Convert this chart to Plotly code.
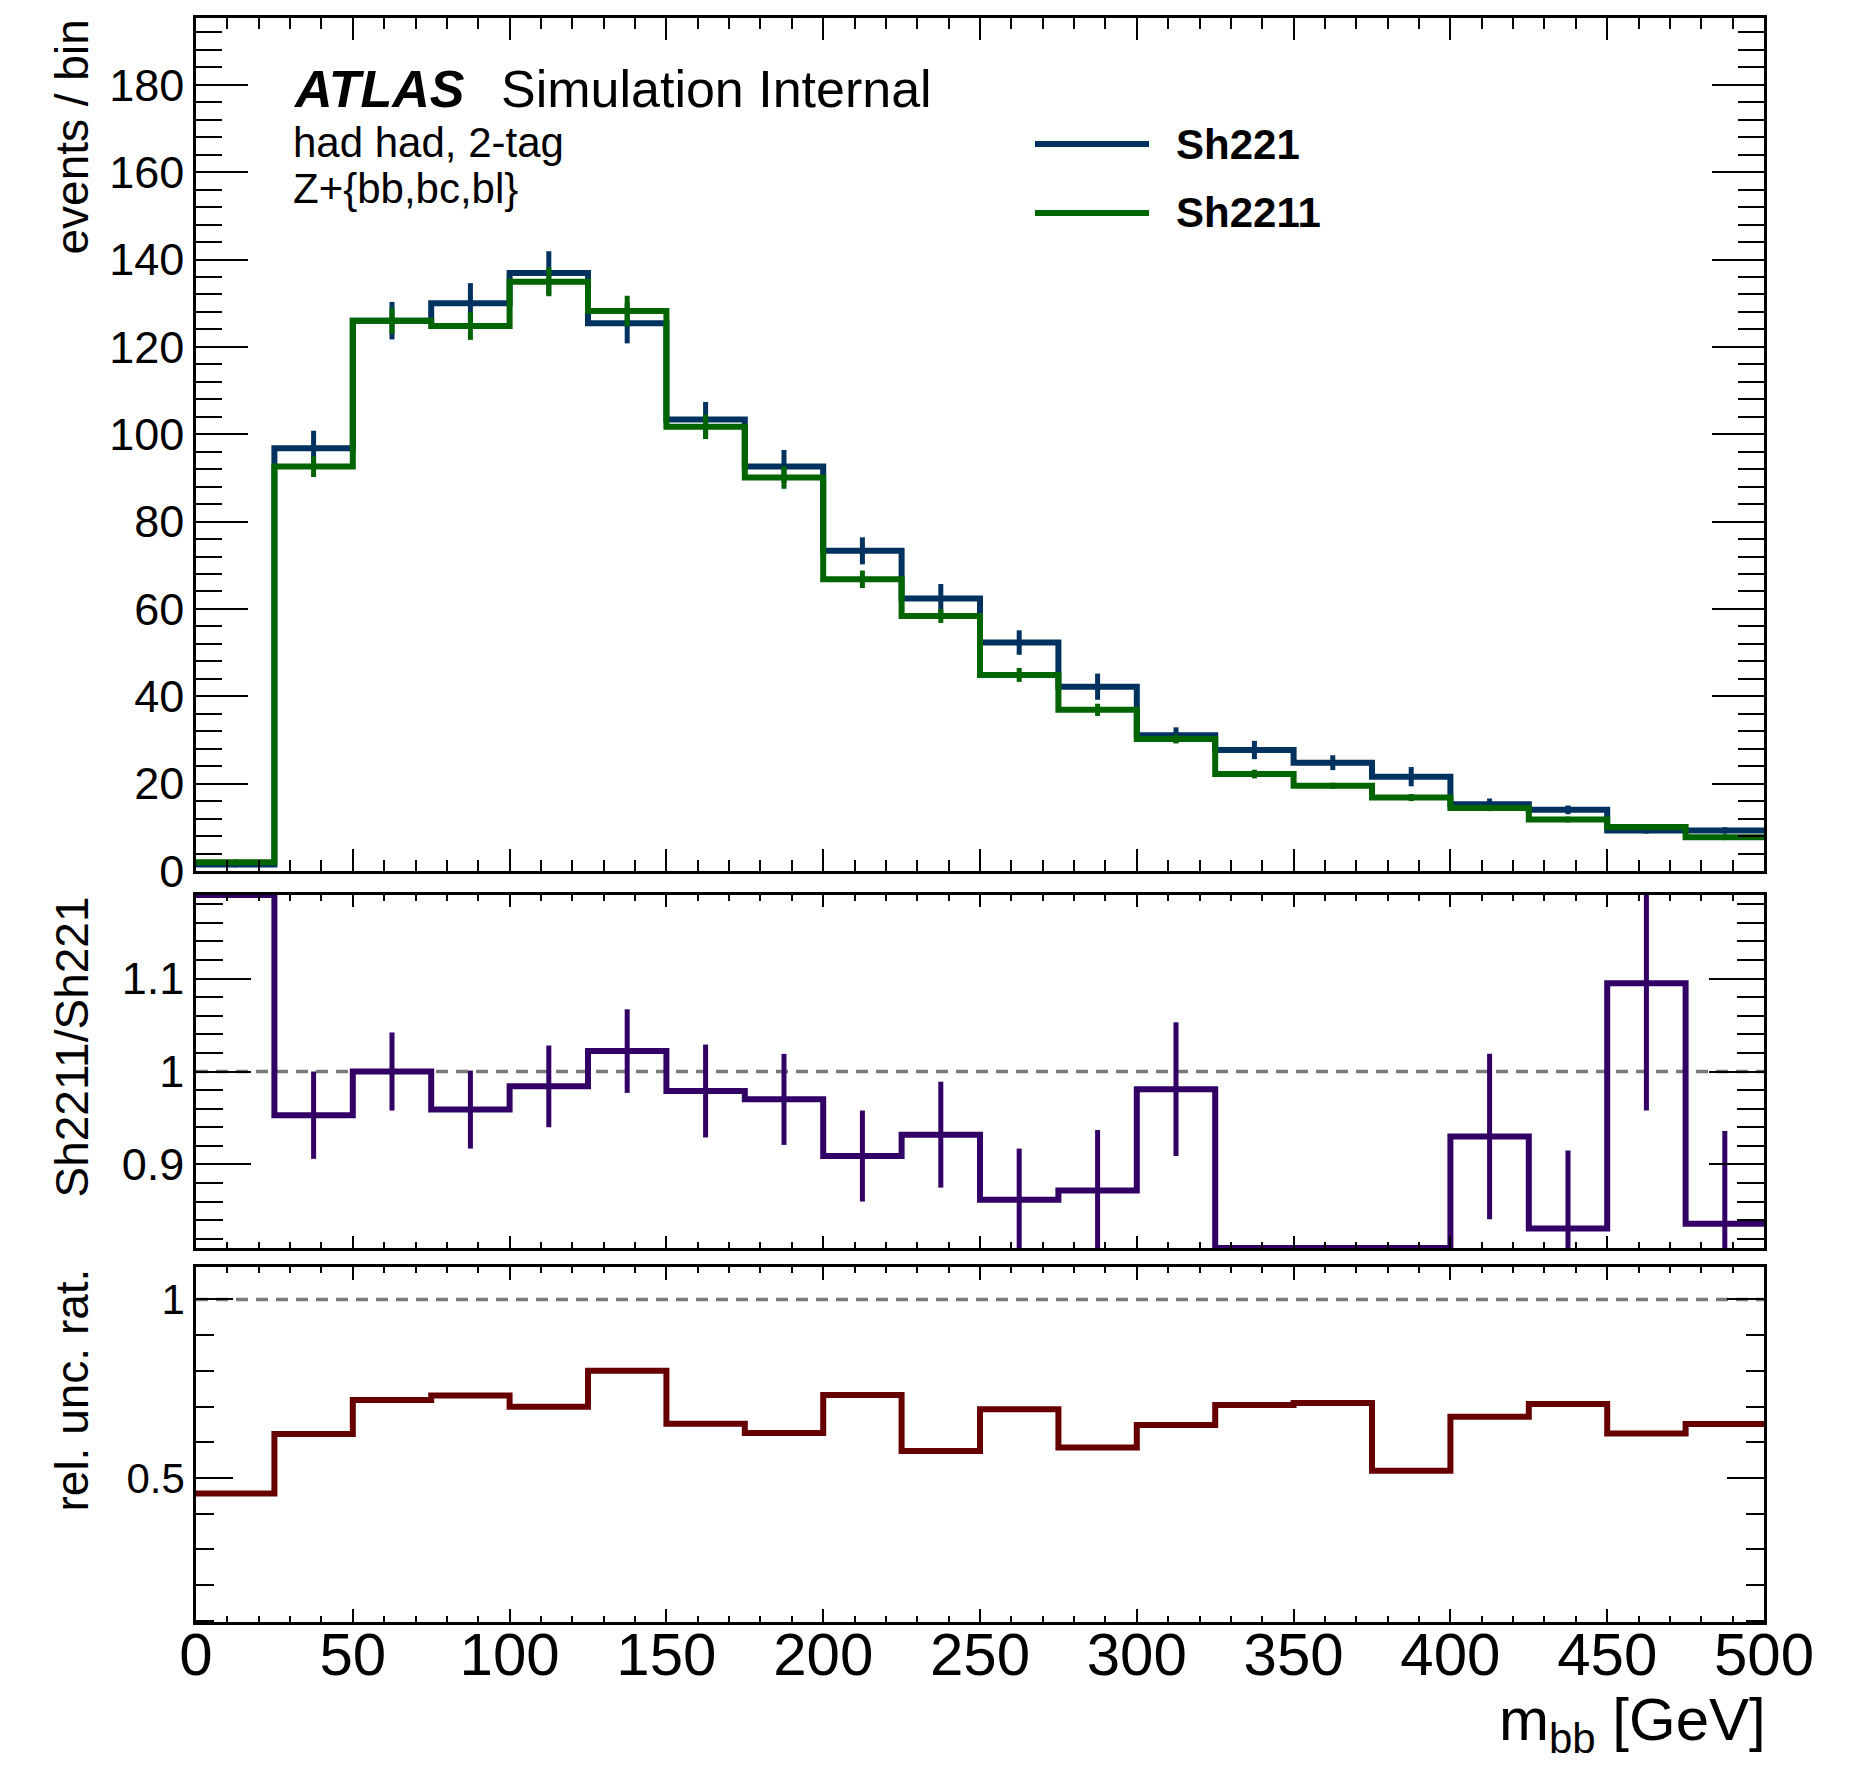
import numpy as np
import plotly.graph_objects as go

# ---------------- data ----------------
bin_edges = [0, 25, 50, 75, 100, 125, 150, 175, 200, 225, 250, 275, 300, 325, 350, 375, 400, 425, 450, 475, 500]

sh221 = [1.5, 96.8, 126.0, 130.0, 136.9, 125.4, 103.4, 92.6, 73.3, 62.4, 52.3, 42.2, 31.1, 27.7, 24.8, 21.6, 15.3, 14.0, 9.3, 9.3]
sh221_err = [0.6, 4.0, 4.3, 4.6, 5.0, 4.6, 4.0, 3.8, 3.1, 3.3, 2.8, 3.0, 1.8, 2.1, 1.7, 2.2, 1.3, 1.0, 0.7, 0.7]
sh2211 = [2.0, 92.6, 126.0, 124.8, 134.9, 128.2, 101.7, 90.1, 66.8, 58.4, 44.9, 36.9, 30.2, 22.2, 19.5, 16.8, 14.4, 11.8, 10.1, 7.7]
sh2211_err = [0.4, 2.4, 3.0, 3.2, 3.3, 3.5, 2.8, 2.6, 2.0, 1.6, 1.6, 1.4, 1.0, 1.0, 0.7, 0.8, 0.7, 0.6, 0.5, 0.4]

ratio = [1.30, 0.953, 1.000, 0.959, 0.984, 1.022, 0.979, 0.970, 0.909, 0.932, 0.862, 0.872, 0.981, 0.800, 0.785, 0.780, 0.930, 0.831, 1.095, 0.836]
ratio_err = [0.10, 0.047, 0.042, 0.042, 0.044, 0.045, 0.050, 0.049, 0.049, 0.057, 0.055, 0.065, 0.072, 0.07, 0.07, 0.08, 0.089, 0.084, 0.137, 0.10]

rel_unc_ratio = [0.456, 0.623, 0.718, 0.731, 0.699, 0.800, 0.652, 0.626, 0.732, 0.575, 0.692, 0.585, 0.648, 0.704, 0.710, 0.520, 0.671, 0.707, 0.624, 0.651]

reference_value = 1.0

x_ticks = [0, 50, 100, 150, 200, 250, 300, 350, 400, 450, 500]
y_ticks_top = [0, 20, 40, 60, 80, 100, 120, 140, 160, 180]
y_ticks_mid = [0.9, 1.0, 1.1]
y_ticklabels_mid = ["0.9", "1", "1.1"]
y_ticks_bot = [0.5, 1.0]
y_ticklabels_bot = ["0.5", "1"]

y_range_top = [0, 195.3]
y_range_mid = [0.81, 1.19]
y_range_bot = [0.096, 1.091]
x_range = [0, 500]

# ---------------- style ----------------
C_BLUE = "#00325f"
C_GREEN = "#006400"
C_PURPLE = "#330066"
C_RED = "#660000"
C_GRAY = "#7a7a7a"
FONT = "Liberation Sans, Arial, Helvetica, sans-serif"
LW = 6
EW = 5

W_PX, H_PX = 1854, 1765
L, R, T, B = 196, 1764, 18, 1622
PW, PH = R - L, B - T


def px(fx):
    return (fx - L) / PW


def py(fy):
    return (B - fy) / PH


edges = np.array(bin_edges, dtype=float)
centers = 0.5 * (edges[:-1] + edges[1:])


def step_y(vals):
    v = list(vals)
    return v + [v[-1]]


fig = go.Figure()

# top panel
fig.add_trace(go.Scatter(x=edges, y=step_y(sh221), mode="lines", line=dict(color=C_BLUE, width=LW, shape="hv"),
                         xaxis="x", yaxis="y", showlegend=False))
fig.add_trace(go.Scatter(x=centers, y=sh221, mode="markers", marker=dict(size=0, color=C_BLUE),
                         error_y=dict(type="data", array=sh221_err, width=0, thickness=EW, color=C_BLUE),
                         xaxis="x", yaxis="y", showlegend=False))
fig.add_trace(go.Scatter(x=edges, y=step_y(sh2211), mode="lines", line=dict(color=C_GREEN, width=LW, shape="hv"),
                         xaxis="x", yaxis="y", showlegend=False))
fig.add_trace(go.Scatter(x=centers, y=sh2211, mode="markers", marker=dict(size=0, color=C_GREEN),
                         error_y=dict(type="data", array=sh2211_err, width=0, thickness=EW, color=C_GREEN),
                         xaxis="x", yaxis="y", showlegend=False))

# middle panel (ratio)
fig.add_trace(go.Scatter(x=x_range, y=[reference_value, reference_value], mode="lines",
                         line=dict(color=C_GRAY, width=3.5, dash="12px,8px"),
                         xaxis="x2", yaxis="y2", showlegend=False))
r = np.array(ratio)
re = np.array(ratio_err)
r_clip = np.clip(r, y_range_mid[0], y_range_mid[1])
fig.add_trace(go.Scatter(x=edges, y=step_y(r_clip), mode="lines", line=dict(color=C_PURPLE, width=LW, shape="hv"),
                         xaxis="x2", yaxis="y2", showlegend=False))
inr = (r > y_range_mid[0]) & (r < y_range_mid[1])
fig.add_trace(go.Scatter(x=centers[inr], y=r[inr], mode="markers", marker=dict(size=0, color=C_PURPLE),
                         error_y=dict(type="data", array=re[inr], width=0, thickness=EW, color=C_PURPLE),
                         xaxis="x2", yaxis="y2", showlegend=False))

# bottom panel (rel. unc. ratio)
fig.add_trace(go.Scatter(x=x_range, y=[reference_value, reference_value], mode="lines",
                         line=dict(color=C_GRAY, width=3.5, dash="12px,8px"),
                         xaxis="x3", yaxis="y3", showlegend=False))
fig.add_trace(go.Scatter(x=edges, y=step_y(rel_unc_ratio), mode="lines", line=dict(color=C_RED, width=LW, shape="hv"),
                         xaxis="x3", yaxis="y3", showlegend=False))

dom_top = [py(871), 1.0]
dom_mid = [py(1248), py(895)]
dom_bot = [0.0, py(1267)]


def xaxis_cfg(domain_anchor, ticklen, show_labels, standoff=0):
    return dict(range=x_range, anchor=domain_anchor, domain=[0, 1], tickvals=x_ticks,
                ticks="inside", ticklen=ticklen, tickwidth=2, tickcolor="black",
                minor=dict(ticks="inside", dtick=10, tick0=0, ticklen=ticklen / 2, tickwidth=2, tickcolor="black"),
                showline=True, linewidth=2.5, linecolor="black", mirror="ticks",
                showgrid=False, zeroline=False, showticklabels=show_labels,
                ticklabelstandoff=standoff,
                tickfont=dict(family=FONT, size=60, color="black"))


def yaxis_cfg(domain, anchor, rng, tickvals, ticktext, ticklen, minor_dtick, minor_tick0, fsize):
    return dict(range=rng, domain=domain, anchor=anchor, tickvals=tickvals, ticktext=ticktext,
                ticks="inside", ticklen=ticklen, tickwidth=2, tickcolor="black",
                minor=dict(ticks="inside", dtick=minor_dtick, tick0=minor_tick0, ticklen=ticklen / 2,
                           tickwidth=2, tickcolor="black"),
                showline=True, linewidth=2.5, linecolor="black", mirror="ticks",
                showgrid=False, zeroline=False,
                tickfont=dict(family=FONT, size=fsize, color="black"))


layout = dict(
    width=W_PX, height=H_PX,
    margin=dict(l=L, r=W_PX - R, t=T, b=H_PX - B),
    paper_bgcolor="white", plot_bgcolor="white",
    showlegend=False,
    xaxis=xaxis_cfg("y", 22, False),
    xaxis2=xaxis_cfg("y2", 12, False),
    xaxis3=xaxis_cfg("y3", 13, True, standoff=-22),
    yaxis=yaxis_cfg(dom_top, "x", y_range_top, y_ticks_top, [str(v) for v in y_ticks_top], 52, 4, 0, 45),
    yaxis2=yaxis_cfg(dom_mid, "x2", y_range_mid, y_ticks_mid, y_ticklabels_mid, 55, 0.02, 0.8, 45),
    yaxis3=yaxis_cfg(dom_bot, "x3", y_range_bot, y_ticks_bot, y_ticklabels_bot, 37, 0.1, 0.0, 42),
)
fig.update_layout(**layout)
fig.update_xaxes(matches="x")

ann = []
# ATLAS label
ann.append(dict(text="<b><i>ATLAS</i></b>", x=px(291), y=py(89), xref="paper", yref="paper",
                xanchor="left", yanchor="middle", showarrow=False, font=dict(family=FONT, size=52, color="black")))
ann.append(dict(text="Simulation Internal", x=px(499), y=py(89), xref="paper", yref="paper",
                xanchor="left", yanchor="middle", showarrow=False, font=dict(family=FONT, size=52, color="black")))
ann.append(dict(text="had had, 2-tag", x=px(291), y=py(143), xref="paper", yref="paper",
                xanchor="left", yanchor="middle", showarrow=False, font=dict(family=FONT, size=42, color="black")))
ann.append(dict(text="Z+{bb,bc,bl}", x=px(291), y=py(188), xref="paper", yref="paper",
                xanchor="left", yanchor="middle", showarrow=False, font=dict(family=FONT, size=42, color="black")))
# legend
legend_items = [("Sh221", C_BLUE, 144), ("Sh2211", C_GREEN, 213)]
shapes = []
for name, col, fy in legend_items:
    shapes.append(dict(type="line", xref="paper", yref="paper", x0=px(1035), x1=px(1149), y0=py(fy), y1=py(fy),
                       line=dict(color=col, width=6)))
    ann.append(dict(text="<b>%s</b>" % name, x=px(1174), y=py(fy), xref="paper", yref="paper",
                    xanchor="left", yanchor="middle", showarrow=False, font=dict(family=FONT, size=42, color="black")))
# axis titles
ann.append(dict(text="events / bin", x=px(71), y=py(18), xref="paper", yref="paper", textangle=-90,
                xanchor="center", yanchor="top", showarrow=False, font=dict(family=FONT, size=46, color="black")))
ann.append(dict(text="Sh2211/Sh221", x=px(71), y=py(895), xref="paper", yref="paper", textangle=-90,
                xanchor="center", yanchor="top", showarrow=False, font=dict(family=FONT, size=46, color="black")))
ann.append(dict(text="rel. unc. rat.", x=px(71), y=py(1267), xref="paper", yref="paper", textangle=-90,
                xanchor="center", yanchor="top", showarrow=False, font=dict(family=FONT, size=46, color="black")))
ann.append(dict(text="m<sub>bb</sub> [GeV]", x=px(1768), y=py(1724), xref="paper", yref="paper",
                xanchor="right", yanchor="middle", showarrow=False, font=dict(family=FONT, size=60, color="black")))

fig.update_layout(annotations=ann, shapes=shapes)
fig.write_html("out.html")
